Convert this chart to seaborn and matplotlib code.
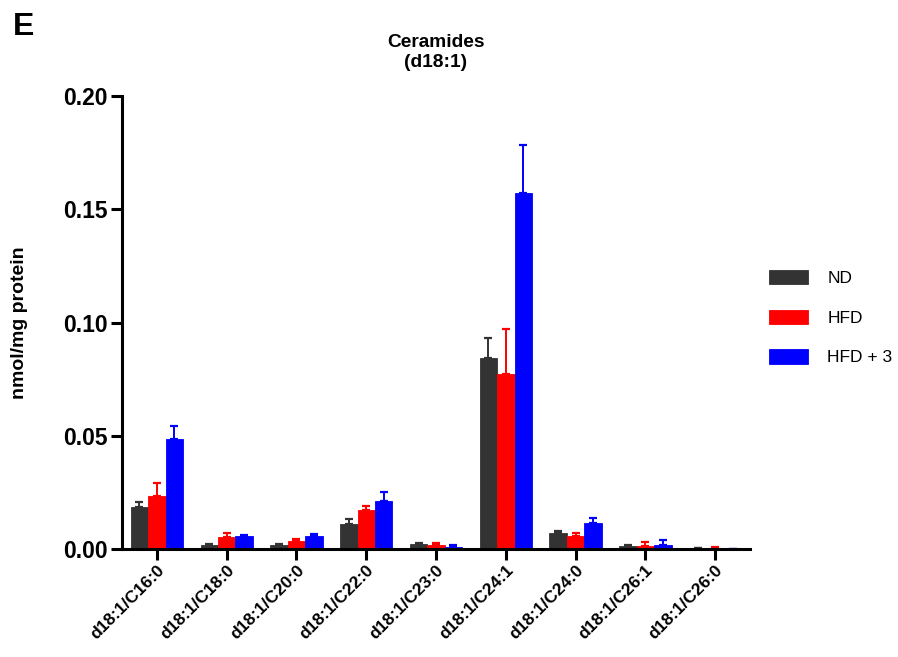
import matplotlib
matplotlib.use("Agg")
import matplotlib.pyplot as plt
import seaborn as sns
import numpy as np
import pandas as pd

# Ceramide species (d18:1) and group values, nmol/mg protein
lipids = ["d18:1/C16:0", "d18:1/C18:0", "d18:1/C20:0", "d18:1/C22:0", "d18:1/C23:0",
          "d18:1/C24:1", "d18:1/C24:0", "d18:1/C26:1", "d18:1/C26:0"]
groups = ["ND", "HFD", "HFD + 3"]

nd_mean = [0.0187, 0.0016, 0.0016, 0.0109, 0.0021, 0.0842, 0.0069, 0.0013, 0.0003]
nd_sem = [0.0019, 0.0004, 0.0004, 0.0022, 0.0004, 0.0088, 0.0009, 0.0004, 0.0002]
hfd_mean = [0.0235, 0.0054, 0.0035, 0.0172, 0.0019, 0.0771, 0.0057, 0.0015, 0.0004]
hfd_sem = [0.0055, 0.0015, 0.0011, 0.0019, 0.0007, 0.0200, 0.0012, 0.0016, 0.0003]
hfd3_mean = [0.0485, 0.0057, 0.0057, 0.0210, 0.0010, 0.1570, 0.0115, 0.0019, 0.0001]
hfd3_sem = [0.0058, 0.0006, 0.0009, 0.0043, 0.0008, 0.0215, 0.0023, 0.0019, 0.0001]

palette = {"ND": "#333333", "HFD": "#ff0000", "HFD + 3": "#0000ff"}

sns.set_style("ticks")
plt.rcParams["font.family"] = ["Liberation Sans", "DejaVu Sans"]
plt.rcParams["text.color"] = "black"
plt.rcParams["axes.labelcolor"] = "black"
plt.rcParams["axes.edgecolor"] = "black"
plt.rcParams["xtick.color"] = "black"
plt.rcParams["ytick.color"] = "black"

df = pd.DataFrame({
    "lipid": lipids * 3,
    "group": [g for g in groups for _ in lipids],
    "value": nd_mean + hfd_mean + hfd3_mean,
})
errs = [nd_sem, hfd_sem, hfd3_sem]

fig = plt.figure(figsize=(8.98, 6.57), dpi=100)
ax = fig.add_axes([122 / 898, 1 - 549 / 657, 628 / 898, 453 / 657])

sns.barplot(data=df, x="lipid", y="value", hue="group", order=lipids,
            hue_order=groups, palette=palette, width=0.75, saturation=1,
            errorbar=None, linewidth=0.6, ax=ax)
for patch in ax.patches:
    patch.set_edgecolor(patch.get_facecolor())

# one-sided (upward) SEM bars
for cont, g, e in zip(ax.containers, groups, errs):
    xs = [p.get_x() + p.get_width() / 2 for p in cont.patches]
    ys = [p.get_height() for p in cont.patches]
    ax.errorbar(xs, ys, yerr=[np.zeros(len(e)), e], fmt="none",
                ecolor=palette[g], elinewidth=1.4, capsize=3, capthick=1.6,
                zorder=1)

ax.set_xlim(-0.5, 8.5)
ax.set_ylim(0, 0.20)
ax.set_yticks([0.0, 0.05, 0.10, 0.15, 0.20])
ax.set_yticklabels(["0.00", "0.05", "0.10", "0.15", "0.20"])
ax.set_xticks(range(len(lipids)))
ax.set_xticklabels(lipids, rotation=45, ha="right", rotation_mode="anchor")
ax.tick_params(axis="both", direction="out", length=8, width=2.2, pad=2)
ax.tick_params(axis="y", labelsize=16.5)
ax.tick_params(axis="x", labelsize=12.5)
for lab in ax.get_xticklabels() + ax.get_yticklabels():
    lab.set_fontweight("bold")

ax.set_xlabel("")
ax.set_ylabel("nmol/mg protein", fontsize=14, fontweight="bold")
ax.yaxis.set_label_coords(-0.150, 0.50)

sns.despine(ax=ax)
for side in ["left", "bottom"]:
    ax.spines[side].set_linewidth(2.2)

ax.set_title("Ceramides\n(d18:1)", fontsize=13.8, fontweight="bold", pad=21)
fig.text(24 / 898, 1 - 27 / 657, "E", fontsize=23, fontweight="bold",
         ha="center", va="center")

ax.legend(loc="upper left", bbox_to_anchor=(769 / 898, 1 - 270 / 657),
          bbox_transform=fig.transFigure, frameon=False, fontsize=12.5,
          handlelength=2.25, handleheight=0.9, handletextpad=1.1,
          labelspacing=1.35, borderpad=0, borderaxespad=0)

fig.savefig("out.png", dpi=100, facecolor="white")
